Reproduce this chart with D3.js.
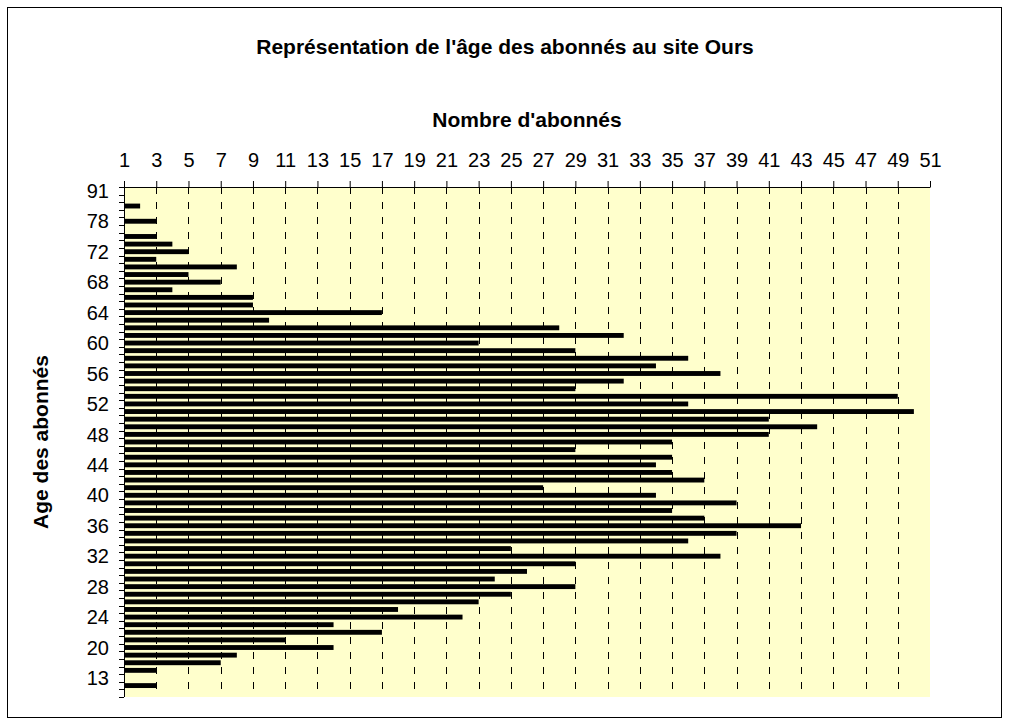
<!DOCTYPE html>
<html>
<head>
<meta charset="utf-8">
<script src="https://cdn.jsdelivr.net/npm/d3@7"></script>
<style>
  body { margin: 0; background: #fff; }
  text { font-family: "Liberation Sans", Arial, sans-serif; fill: #000; }
</style>
</head>
<body>
<script>
// ages, bottom to top (only every 4th one is labelled on the axis)
var ages = [10, 12, 13, 17, 18, 19,
  20, 21, 22, 23, 24, 25, 26, 27, 28, 29, 30, 31, 32, 33, 34, 35, 36, 37, 38, 39,
  40, 41, 42, 43, 44, 45, 46, 47, 48, 49, 50, 51, 52, 53, 54, 55, 56, 57, 58, 59,
  60, 61, 62, 63, 64, 65, 66, 67, 68, 69, 70, 71, 72,
  73, 74, 76, 78, 80, 82, 85, 91];

// nombre d'abonnés per age
var abonnes = [1, 3, 1, 3, 7, 8, 14, 11, 17, 14,
  22, 18, 23, 25, 29, 24, 26, 29, 38, 25,
  36, 39, 43, 37, 35, 39, 34, 27, 37, 35,
  34, 35, 29, 35, 41, 44, 41, 50, 36, 49,
  29, 32, 38, 34, 36, 29, 23, 32, 28, 10,
  17, 9, 9, 4, 7, 5, 8, 3, 5, 4,
  3, 1, 3, 1, 2, 1, 1];

var xTicks = d3.range(1, 52, 2);
var shownAges = ages.filter(function (d, i) { return (i - 2) % 4 === 0; });

var width = 1010, height = 726;
var plot = { left: 124, right: 930, top: 187, bottom: 697 };

var data = ages.map(function (a, i) { return { age: a, n: abonnes[i] }; });

var svg = d3.select("body").append("svg")
  .attr("width", width)
  .attr("height", height);

// outer frame
svg.append("rect")
  .attr("x", 7.5).attr("y", 7.5)
  .attr("width", 994).attr("height", 710)
  .attr("fill", "#fff")
  .attr("stroke", "#000");

var x = d3.scaleLinear().domain([1, 51]).range([plot.left, plot.right]);

var y = d3.scaleBand().domain(ages)
  .range([plot.bottom, plot.top])
  .paddingInner(0.36).paddingOuter(0.18);

// plot area
svg.append("rect")
  .attr("x", plot.left).attr("y", plot.top)
  .attr("width", plot.right - plot.left)
  .attr("height", plot.bottom - plot.top)
  .attr("fill", "#ffffcc");

// dashed gridlines
svg.append("g").selectAll("line")
  .data(xTicks.slice(1, -1))
  .enter().append("line")
  .attr("x1", function (d) { return Math.round(x(d)) + 0.5; })
  .attr("x2", function (d) { return Math.round(x(d)) + 0.5; })
  .attr("y1", plot.top)
  .attr("y2", plot.bottom)
  .attr("stroke", "#000")
  .attr("stroke-dasharray", "7,8");

// bars
svg.append("g").selectAll("rect")
  .data(data)
  .enter().append("rect")
  .attr("x", x(1))
  .attr("y", function (d) { return y(d.age); })
  .attr("width", function (d) { return x(d.n) - x(1); })
  .attr("height", y.bandwidth())
  .attr("fill", "#000");

// value axis on top
var xAxis = svg.append("g")
  .attr("transform", "translate(0," + plot.top + ")")
  .call(d3.axisTop(x).tickValues(xTicks).tickSize(6).tickPadding(14).tickSizeOuter(0));
xAxis.selectAll("text").style("font-size", "20px").style("font-family", "Liberation Sans, Arial, sans-serif");

// category axis: ticks on the boundaries, labels every 4th
var step = y.step();
var yg = svg.append("g");
var bounds = ages.map(function (a) { return y(a) + y.bandwidth() + step * 0.18; });
bounds.push(plot.top);
yg.selectAll("line.tick")
  .data(bounds)
  .enter().append("line")
  .attr("class", "tick")
  .attr("x1", plot.left - 5)
  .attr("x2", plot.left)
  .attr("y1", function (d) { return Math.round(d) + 0.5; })
  .attr("y2", function (d) { return Math.round(d) + 0.5; })
  .attr("stroke", "#000");
yg.append("line")
  .attr("x1", plot.left + 0.5).attr("x2", plot.left + 0.5)
  .attr("y1", plot.top).attr("y2", plot.bottom)
  .attr("stroke", "#000");
yg.selectAll("text")
  .data(shownAges)
  .enter().append("text")
  .attr("x", plot.left - 15)
  .attr("y", function (d) { return y(d) + y.bandwidth() / 2; })
  .attr("dy", "0.36em")
  .attr("text-anchor", "end")
  .style("font-size", "20px")
  .text(function (d) { return d; });

// titles
svg.append("text")
  .attr("x", 505).attr("y", 54)
  .attr("text-anchor", "middle")
  .style("font-size", "21px").style("font-weight", "bold")
  .text("Représentation de l'âge des abonnés au site Ours");

svg.append("text")
  .attr("x", (plot.left + plot.right) / 2).attr("y", 127)
  .attr("text-anchor", "middle")
  .style("font-size", "21px").style("font-weight", "bold")
  .text("Nombre d'abonnés");

svg.append("text")
  .attr("transform", "translate(48," + (plot.top + plot.bottom) / 2 + ") rotate(-90)")
  .attr("text-anchor", "middle")
  .style("font-size", "21px").style("font-weight", "bold")
  .text("Age des abonnés");
</script>
</body>
</html>
